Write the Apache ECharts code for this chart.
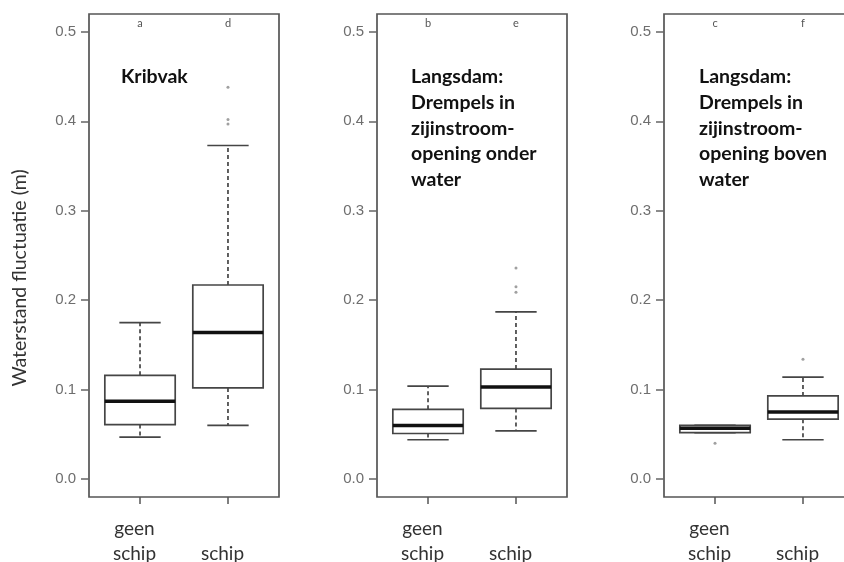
<!DOCTYPE html>
<html>
<head>
<meta charset="utf-8">
<script src="https://cdn.jsdelivr.net/npm/echarts@6/dist/echarts.min.js"></script>
<style>
html,body{margin:0;padding:0;background:#fff;}
#chart{width:844px;height:562px;}
</style>
</head>
<body>
<div id="chart"></div>
<script>
// ---- data ----
const categories = ['geen\nschip', '\nschip'];
const panelTitles = [
  'Kribvak',
  'Langsdam:\nDrempels in\nzijinstroom-\nopening onder\nwater',
  'Langsdam:\nDrempels in\nzijinstroom-\nopening boven\nwater'
];
const groupLetters = [['a', 'd'], ['b', 'e'], ['c', 'f']];
// [category position, lower whisker, Q1, median, Q3, upper whisker]
const kribvakBoxes = [[1, 0.047, 0.061, 0.087, 0.116, 0.175], [2, 0.060, 0.102, 0.164, 0.217, 0.373]];
const onderBoxes   = [[1, 0.044, 0.051, 0.060, 0.078, 0.104], [2, 0.054, 0.079, 0.103, 0.123, 0.187]];
const bovenBoxes   = [[1, 0.052, 0.052, 0.057, 0.060, 0.060], [2, 0.044, 0.067, 0.075, 0.093, 0.114]];
const kribvakOutliers = [[2, 0.438], [2, 0.402], [2, 0.397]];
const onderOutliers   = [[2, 0.236], [2, 0.215], [2, 0.209]];
const bovenOutliers   = [[1, 0.040], [2, 0.134]];
const yTicks = [0, 0.1, 0.2, 0.3, 0.4, 0.5];
const xTicks = [1, 2];
const yName = 'Waterstand fluctuatie (m)';

const boxSets = [kribvakBoxes, onderBoxes, bovenBoxes];
const outlierSets = [kribvakOutliers, onderOutliers, bovenOutliers];

// ---- layout ----
const gridLefts = [89, 377, 664];
const titleLefts = [121, 411, 699];
const FONT = 'Lato, "Open Sans", sans-serif';

function renderBox(params, api) {
  const x = api.value(0);
  const lo = api.coord([x, api.value(1)]);
  const q1 = api.coord([x, api.value(2)]);
  const md = api.coord([x, api.value(3)]);
  const q3 = api.coord([x, api.value(4)]);
  const hi = api.coord([x, api.value(5)]);
  const unit = api.size([1, 0])[0];
  const hw = unit * 0.40;
  const cw = unit * 0.235;
  const cx = md[0];
  const stroke = '#454545';
  const lw = 1.7;
  const children = [
    {type: 'line', shape: {x1: cx, y1: q3[1], x2: cx, y2: hi[1]}, style: {stroke, lineWidth: lw, lineDash: [4, 3]}},
    {type: 'line', shape: {x1: cx, y1: q1[1], x2: cx, y2: lo[1]}, style: {stroke, lineWidth: lw, lineDash: [4, 3]}},
    {type: 'line', shape: {x1: cx - cw, y1: hi[1], x2: cx + cw, y2: hi[1]}, style: {stroke, lineWidth: lw}},
    {type: 'line', shape: {x1: cx - cw, y1: lo[1], x2: cx + cw, y2: lo[1]}, style: {stroke, lineWidth: lw}},
    {type: 'rect', shape: {x: cx - hw, y: q3[1], width: 2 * hw, height: q1[1] - q3[1]}, style: {fill: '#fff', stroke, lineWidth: lw}},
    {type: 'line', shape: {x1: cx - hw, y1: md[1], x2: cx + hw, y2: md[1]}, style: {stroke: '#111', lineWidth: 3.5}}
  ];
  return {type: 'group', children};
}

const grids = [], xAxes = [], yAxes = [], series = [], titles = [];
for (let i = 0; i < 3; i++) {
  grids.push({left: gridLefts[i], width: 190, top: 14, height: 483, show: true,
    outerBoundsMode: 'none', containLabel: false,
    borderColor: '#555', borderWidth: 1.7, backgroundColor: 'transparent'});
  // bottom axis
  xAxes.push({type: 'value', gridIndex: i, min: 0.42, max: 2.58, position: 'bottom',
    axisLine: {show: false, onZero: false}, splitLine: {show: false},
    axisTick: {show: true, customValues: xTicks, length: 7, lineStyle: {color: '#555', width: 1.5}},
    axisLabel: {customValues: xTicks, margin: 19, fontSize: 19, lineHeight: 25, color: '#333', fontFamily: FONT,
      padding: [0, 11, 0, 0],
      formatter: v => categories[Math.round(v) - 1]}
  });
  // top axis (group letters)
  const letters = groupLetters[i];
  xAxes.push({type: 'value', gridIndex: i, min: 0.42, max: 2.58, position: 'top',
    axisLine: {show: false, onZero: false}, splitLine: {show: false}, axisTick: {show: false},
    axisLabel: {inside: true, customValues: xTicks, margin: 4, fontSize: 11, color: '#555', fontFamily: FONT,
      formatter: v => letters[Math.round(v) - 1]}
  });
  yAxes.push({type: 'value', gridIndex: i, min: -0.02, max: 0.52,
    axisLine: {show: false, onZero: false}, splitLine: {show: false},
    axisTick: {show: true, customValues: yTicks, length: 8, lineStyle: {color: '#666', width: 1.5}},
    axisLabel: {customValues: yTicks, margin: 13, fontSize: 15, color: '#6e6e6e', fontFamily: 'Liberation Sans, Arial, sans-serif',
      formatter: v => v.toFixed(1)}
  });
  series.push({type: 'custom', xAxisIndex: 2 * i, yAxisIndex: i, renderItem: renderBox,
    encode: {x: 0, y: [1, 2, 3, 4, 5]}, data: boxSets[i], z: 2});
  series.push({type: 'scatter', xAxisIndex: 2 * i, yAxisIndex: i, data: outlierSets[i],
    symbol: 'circle', symbolSize: 3, itemStyle: {color: '#888'}, z: 3});
  titles.push({text: panelTitles[i], left: titleLefts[i], top: 64, padding: 0,
    textStyle: {fontFamily: FONT, fontWeight: 'bold', fontSize: 19.5, lineHeight: 25.7, color: '#111'}});
}

const chart = echarts.init(document.getElementById('chart'), null, {renderer: 'canvas'});
chart.setOption({
  animation: false,
  backgroundColor: '#fff',
  title: titles,
  grid: grids,
  xAxis: xAxes,
  yAxis: yAxes,
  series: series,
  graphic: [{
    type: 'text', x: 20, y: 278, rotation: Math.PI / 2,
    style: {text: yName, fontFamily: FONT, fontSize: 19.5, fill: '#333', align: 'center', verticalAlign: 'middle'}
  }]
});
</script>
</body>
</html>
